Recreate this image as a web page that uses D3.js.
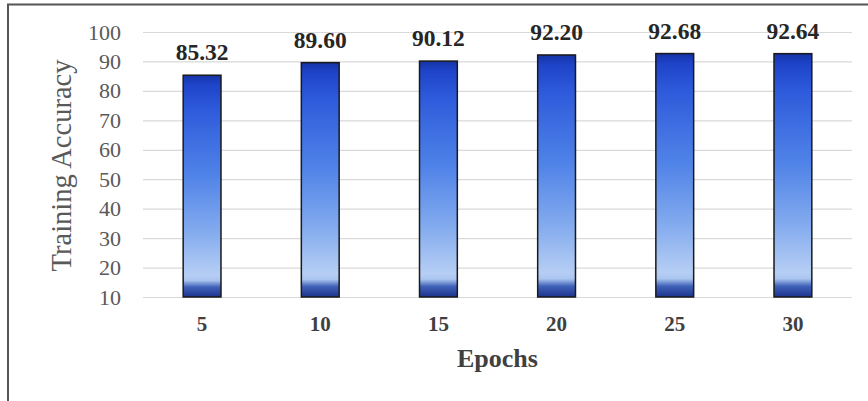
<!DOCTYPE html>
<html><head><meta charset="utf-8">
<script src="https://cdn.jsdelivr.net/npm/d3@7"></script>
<style>html,body{margin:0;padding:0;background:#fff;}svg{display:block;}</style>
</head><body>
<svg id="chart" width="868" height="401"></svg>
<script>
const categories = ["5", "10", "15", "20", "25", "30"];
const accuracy = [85.32, 89.60, 90.12, 92.20, 92.68, 92.64];
const valueLabels = ["85.32", "89.60", "90.12", "92.20", "92.68", "92.64"];
const yTicks = [10, 20, 30, 40, 50, 60, 70, 80, 90, 100];
const xTitle = "Epochs";
const yTitle = "Training Accuracy";

const svg = d3.select("#chart");
const W = 868, H = 401;
const m = {left: 143, right: 16, top: 32, bottom: 104};
const serif = "Liberation Serif, Times New Roman, serif";

// frame (top and left edges visible)
svg.append("rect").attr("x", 8).attr("y", 4.5).attr("width", 900).attr("height", 440)
  .attr("fill", "none").attr("stroke", "#555").attr("stroke-width", 2);

const x = d3.scaleBand().domain(categories).range([m.left, W - m.right]).paddingInner(0.68).paddingOuter(0.34);
const y = d3.scaleLinear().domain([10, 100]).range([H - m.bottom, m.top]);

const defs = svg.append("defs");
const grad = defs.append("linearGradient").attr("id", "barGrad")
  .attr("x1", 0).attr("y1", 0).attr("x2", 0).attr("y2", 1);
[[0, "#1533a6"], [0.04, "#1e43c8"], [0.15, "#2d5adb"], [0.45, "#5083e8"], [0.7, "#82aaee"],
 [0.9, "#b6cef4"], [0.925, "#aac5f0"], [0.955, "#4062b8"], [1, "#1c338c"]]
  .forEach(([o, c]) => grad.append("stop").attr("offset", o).attr("stop-color", c));

// gridlines
const yAxis = d3.axisLeft(y).tickValues(yTicks).tickSize(-(W - m.right - m.left)).tickPadding(10);
const gy = svg.append("g").attr("transform", `translate(${m.left},0)`).call(yAxis);
gy.select(".domain").remove();
gy.selectAll(".tick line").attr("stroke", "#d9d9d9").attr("stroke-width", 1.2);
gy.selectAll(".tick text").attr("font-family", serif)
  .attr("font-size", 22).attr("fill", "#595959").attr("x", -22);

// bars
svg.append("g").selectAll("rect").data(accuracy).join("rect")
  .attr("x", (d, i) => x(categories[i]))
  .attr("width", x.bandwidth())
  .attr("y", d => y(d))
  .attr("height", d => y(10) - y(d))
  .attr("fill", "url(#barGrad)")
  .attr("stroke", "#1a1a1a").attr("stroke-width", 1.5);

// value labels
svg.append("g").selectAll("text").data(accuracy).join("text")
  .attr("x", (d, i) => x(categories[i]) + x.bandwidth() / 2)
  .attr("y", d => y(d) - 15)
  .attr("text-anchor", "middle")
  .attr("font-family", serif)
  .attr("font-weight", "bold").attr("font-size", 23.5).attr("fill", "#262626")
  .text((d, i) => valueLabels[i]);

// x axis labels
const xAxis = d3.axisBottom(x).tickSize(0).tickPadding(19);
const gx = svg.append("g").attr("transform", `translate(0,${y(10)})`).call(xAxis);
gx.select(".domain").remove();
gx.selectAll(".tick text").attr("font-family", serif)
  .attr("font-weight", "bold").attr("font-size", 21).attr("fill", "#404040");

// axis titles
svg.append("text").attr("x", (m.left + W - m.right) / 2).attr("y", 367)
  .attr("text-anchor", "middle").attr("font-family", serif)
  .attr("font-weight", "bold").attr("font-size", 26).attr("fill", "#404040").text(xTitle);

svg.append("text").attr("transform", `translate(71,${(y(10) + y(100)) / 2 + 1}) rotate(-90)`)
  .attr("text-anchor", "middle").attr("font-family", serif)
  .attr("font-size", 28.5).attr("fill", "#595959").text(yTitle);
</script>
</body></html>
